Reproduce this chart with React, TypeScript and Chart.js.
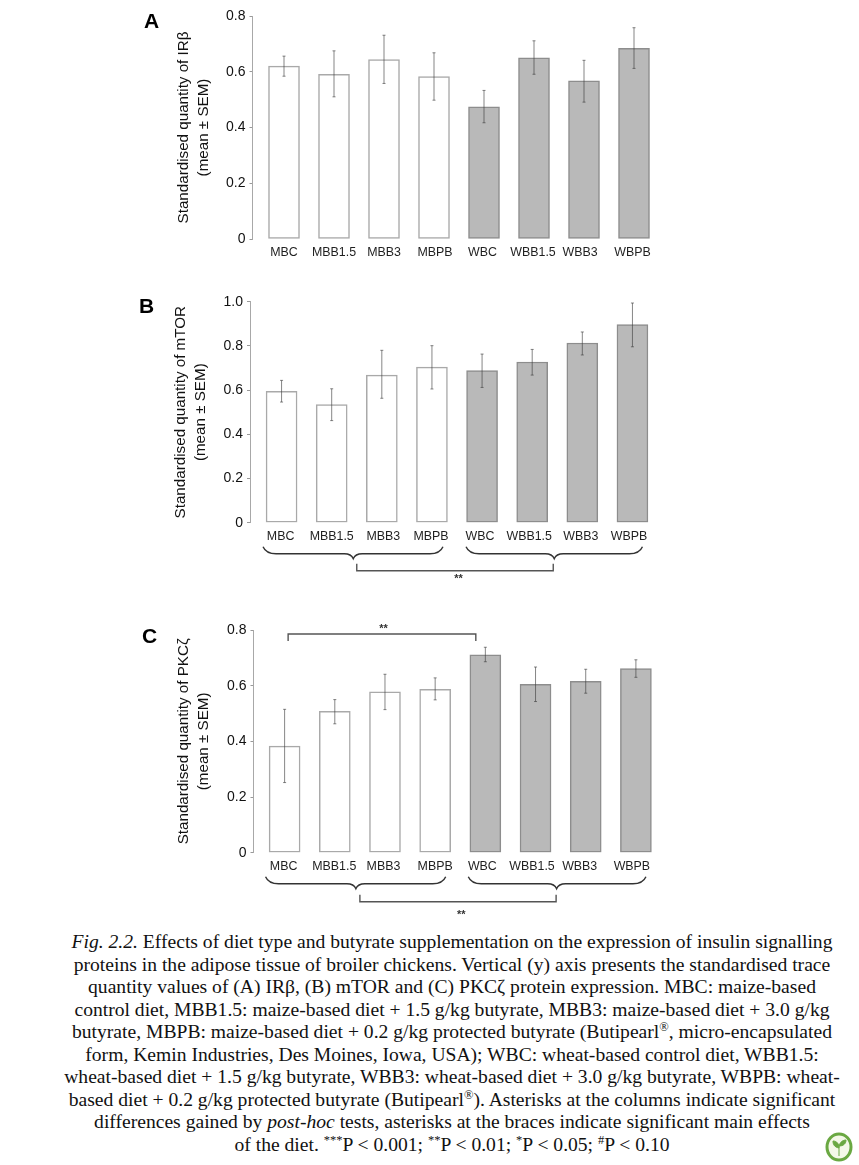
import React, { useEffect, useRef } from "react";
import { Chart, registerables } from "chart.js";

Chart.register(...registerables);

const categories = ["MBC", "MBB1.5", "MBB3", "MBPB", "WBC", "WBB1.5", "WBB3", "WBPB"];

const irbMeans = [0.62, 0.591, 0.644, 0.583, 0.474, 0.65, 0.567, 0.684];
const irbHigh = [0.656, 0.675, 0.731, 0.668, 0.533, 0.711, 0.641, 0.758];
const irbLow = [0.584, 0.51, 0.558, 0.498, 0.417, 0.591, 0.491, 0.612];

const mtorMeans = [0.594, 0.535, 0.668, 0.704, 0.688, 0.727, 0.813, 0.896];
const mtorHigh = [0.644, 0.606, 0.78, 0.801, 0.763, 0.784, 0.863, 0.994];
const mtorLow = [0.546, 0.462, 0.563, 0.605, 0.612, 0.668, 0.759, 0.796];

const pkcMeans = [0.383, 0.508, 0.578, 0.587, 0.711, 0.605, 0.616, 0.661];
const pkcHigh = [0.515, 0.55, 0.641, 0.628, 0.738, 0.667, 0.659, 0.693];
const pkcLow = [0.252, 0.463, 0.514, 0.549, 0.686, 0.543, 0.573, 0.63];

const WHITE_FILL = "#ffffff";
const WHITE_EDGE = "#a9a9a9";
const GREY_FILL = "#b9b9b9";
const GREY_EDGE = "#8d8d8d";
const fills = categories.map((c) => (c[0] === "M" ? WHITE_FILL : GREY_FILL));
const edges = categories.map((c) => (c[0] === "M" ? WHITE_EDGE : GREY_EDGE));

type Panel = {
  letter: string;
  letterX: number;
  letterY: number;
  top: number;
  height: number;
  titleLeft: number;
  left: number;
  right: number;
  areaTop: number;
  areaBottom: number;
  xMin: number;
  xMax: number;
  yMax: number;
  means: number[];
  high: number[];
  low: number[];
  title: string[];
  labelShift: number[];
  braces?: { left: number[]; right: number[]; tipOffset: number[]; bracket: number[]; bracketY: number[]; starsX: number; starsY: number };
  topBracket?: { span: number[]; y: number[]; starsX: number; starsY: number };
};

const panels: Panel[] = [
  {
    letter: "A", letterX: 144, letterY: 9, top: 0, height: 270, titleLeft: 174, left: 252.5, right: 660,
    areaTop: 16, areaBottom: 239, xMin: -0.63, xMax: 7.52, yMax: 0.8,
    means: irbMeans, high: irbHigh, low: irbLow,
    title: ["Standardised quantity of IRβ", "(mean ± SEM)"],
    labelShift: [0, 0, 0, 0.02, -0.03, -0.02, -0.08, -0.03],
  },
  {
    letter: "B", letterX: 139, letterY: 294, top: 285, height: 310, titleLeft: 171, left: 250, right: 657,
    areaTop: 16.7, areaBottom: 237.7, xMin: -0.63, xMax: 7.49, yMax: 1.0,
    means: mtorMeans, high: mtorHigh, low: mtorLow,
    title: ["Standardised quantity of mTOR", "(mean ± SEM)"],
    labelShift: [-0.02, 0, 0.03, -0.02, -0.04, -0.06, -0.03, -0.07],
    braces: {
      left: [-0.37, 1.43, 3.22], right: [3.68, 5.44, 7.2], tipOffset: [24, 31, 36],
      bracket: [1.5, 5.42], bracketY: [41, 48], starsX: 3.53, starsY: 56,
    },
  },
  {
    letter: "C", letterX: 142, letterY: 624, top: 615, height: 310, titleLeft: 174, left: 253.5, right: 662,
    areaTop: 15, areaBottom: 237.7, xMin: -0.62, xMax: 7.52, yMax: 0.8,
    means: pkcMeans, high: pkcHigh, low: pkcLow,
    title: ["Standardised quantity of PKCζ", "(mean ± SEM)"],
    labelShift: [-0.02, -0.01, -0.03, 0, -0.06, -0.07, -0.12, -0.08],
    braces: {
      left: [-0.38, 1.42, 3.21], right: [3.66, 5.42, 7.2], tipOffset: [24, 31, 36],
      bracket: [1.5, 5.41], bracketY: [42, 49], starsX: 3.52, starsY: 62,
    },
    topBracket: { span: [0.07, 3.81], y: [4, 11], starsX: 1.97, starsY: -1 },
  },
];

const captionLines: React.ReactNode[] = [
  <><i>Fig. 2.2.</i> Effects of diet type and butyrate supplementation on the expression of insulin signalling</>,
  <>proteins in the adipose tissue of broiler chickens. Vertical (y) axis presents the standardised trace</>,
  <>quantity values of (A) IRβ, (B) mTOR and (C) PKCζ protein expression. MBC: maize-based</>,
  <>control diet, MBB1.5: maize-based diet + 1.5 g/kg butyrate, MBB3: maize-based diet + 3.0 g/kg</>,
  <>butyrate, MBPB: maize-based diet + 0.2 g/kg protected butyrate (Butipearl<sup>®</sup>, micro-encapsulated</>,
  <>form, Kemin Industries, Des Moines, Iowa, USA); WBC: wheat-based control diet, WBB1.5:</>,
  <>wheat-based diet + 1.5 g/kg butyrate, WBB3: wheat-based diet + 3.0 g/kg butyrate, WBPB: wheat-</>,
  <>based diet + 0.2 g/kg protected butyrate (Butipearl<sup>®</sup>). Asterisks at the columns indicate significant</>,
  <>differences gained by <i>post-hoc</i> tests, asterisks at the braces indicate significant main effects</>,
  <>of the diet. <sup>***</sup>P &lt; 0.001; <sup>**</sup>P &lt; 0.01; <sup>*</sup>P &lt; 0.05; <sup>#</sup>P &lt; 0.10</>,
];

function drawBrace(ctx: CanvasRenderingContext2D, x0: number, mid: number, x1: number, yTop: number, yFlat: number, yTip: number) {
  ctx.beginPath();
  ctx.moveTo(x0, yTop);
  ctx.quadraticCurveTo(x0 + 3, yFlat, x0 + 13, yFlat);
  ctx.lineTo(mid - 9, yFlat);
  ctx.quadraticCurveTo(mid - 2, yFlat, mid, yTip);
  ctx.quadraticCurveTo(mid + 2, yFlat, mid + 9, yFlat);
  ctx.lineTo(x1 - 13, yFlat);
  ctx.quadraticCurveTo(x1 - 3, yFlat, x1, yTop);
  ctx.stroke();
}

function drawBracket(ctx: CanvasRenderingContext2D, x0: number, x1: number, yA: number, yB: number, open: "up" | "down") {
  const yBar = open === "up" ? yB : yA;
  const yEnd = open === "up" ? yA : yB;
  ctx.beginPath();
  ctx.moveTo(x0, yEnd);
  ctx.lineTo(x0, yBar);
  ctx.lineTo(x1, yBar);
  ctx.lineTo(x1, yEnd);
  ctx.stroke();
}

function makeChart(canvas: HTMLCanvasElement, p: Panel) {
  const annotate = {
    id: "annotate",
    afterDatasetsDraw(chart: any) {
      const { ctx, scales, chartArea } = chart;
      const x = scales.x;
      const y = scales.y;
      ctx.save();
      ctx.strokeStyle = "rgba(60,60,60,0.62)";
      ctx.lineWidth = 1;
      p.means.forEach((_, i) => {
        const cx = x.getPixelForValue(i);
        const hi = y.getPixelForValue(p.high[i]);
        const lo = y.getPixelForValue(p.low[i]);
        ctx.beginPath();
        ctx.moveTo(cx, hi);
        ctx.lineTo(cx, lo);
        ctx.moveTo(cx - 1.5, hi);
        ctx.lineTo(cx + 1.5, hi);
        ctx.moveTo(cx - 1.5, lo);
        ctx.lineTo(cx + 1.5, lo);
        ctx.stroke();
      });
      ctx.fillStyle = "#333";
      ctx.textAlign = "center";
      ctx.textBaseline = "middle";
      ctx.font = "bold 11px 'Liberation Sans'";
      if (p.braces) {
        const b = p.braces;
        const base = chartArea.bottom;
        ctx.strokeStyle = "#333";
        ctx.lineWidth = 1.4;
        [b.left, b.right].forEach((s) =>
          drawBrace(ctx, x.getPixelForValue(s[0]), x.getPixelForValue(s[1]), x.getPixelForValue(s[2]), base + b.tipOffset[0], base + b.tipOffset[1], base + b.tipOffset[2])
        );
        ctx.strokeStyle = "#555";
        ctx.lineWidth = 1.4;
        drawBracket(ctx, x.getPixelForValue(b.bracket[0]), x.getPixelForValue(b.bracket[1]), base + b.bracketY[0], base + b.bracketY[1], "up");
        ctx.fillText("**", x.getPixelForValue(b.starsX), base + b.starsY);
      }
      if (p.topBracket) {
        const t = p.topBracket;
        const top = chartArea.top;
        ctx.strokeStyle = "#555";
        ctx.lineWidth = 1.4;
        drawBracket(ctx, x.getPixelForValue(t.span[0]), x.getPixelForValue(t.span[1]), top + t.y[0], top + t.y[1], "down");
        ctx.fillText("**", x.getPixelForValue(t.starsX), top + t.starsY);
      }
      ctx.restore();
    },
  };

  return new Chart(canvas, {
    type: "bar",
    data: {
      datasets: [
        {
          data: p.means.map((v, i) => ({ x: i, y: v })),
          backgroundColor: fills,
          borderColor: edges,
          borderWidth: 1.5,
          borderSkipped: false,
          barThickness: 31,
        },
      ],
    },
    plugins: [annotate],
    options: {
      animation: false,
      responsive: false,
      devicePixelRatio: 1,
      layout: {
        padding: {
          left: p.titleLeft,
          right: 859 - p.right,
          top: p.areaTop,
          bottom: p.height - p.areaBottom - 30,
        },
      },
      plugins: { legend: { display: false }, tooltip: { enabled: false } },
      scales: {
        x: {
          type: "linear",
          offset: false,
          min: p.xMin,
          max: p.xMax,
          grid: { display: false, drawTicks: false, offset: false },
          border: { display: false },
          afterBuildTicks: (s: any) => {
            s.ticks = categories.map((_, i) => ({ value: i + p.labelShift[i] }));
          },
          afterFit: (s: any) => {
            s.height = 30;
          },
          ticks: {
            autoSkip: false,
            maxRotation: 0,
            padding: 6,
            color: "#1f1f1f",
            font: { family: "'Liberation Sans'", size: 12.4 },
            callback: (_v: any, i: number) => categories[i],
          },
        },
        y: {
          min: 0,
          max: p.yMax,
          grid: { drawOnChartArea: false, drawTicks: true, tickLength: 3, color: "#999" },
          border: { display: true, color: "#a8a8a8", width: 1 },
          afterFit: (s: any) => {
            s.width = p.left - p.titleLeft;
          },
          title: {
            display: true,
            text: p.title,
            color: "#111",
            padding: 0,
            font: { family: "'Liberation Sans'", size: 15.2, lineHeight: 1.32 },
          },
          ticks: {
            stepSize: 0.2,
            padding: 4,
            color: "#111",
            font: { family: "'Liberation Sans'", size: 14 },
            callback: (v: any) => (Number(v) === 0 ? "0" : Number(v).toFixed(1)),
          },
        },
      },
    } as any,
  });
}

function PanelChart({ p }: { p: Panel }) {
  const ref = useRef<HTMLCanvasElement | null>(null);
  useEffect(() => {
    const chart = makeChart(ref.current!, p);
    return () => chart.destroy();
  }, [p]);
  return (
    <>
      <canvas ref={ref} width={859} height={p.height} style={{ position: "absolute", left: 0, top: p.top, display: "block" }} />
      <div style={{ position: "absolute", left: p.letterX, top: p.letterY, font: "bold 21px 'Liberation Sans'", color: "#000", lineHeight: "24px" }}>
        {p.letter}
      </div>
    </>
  );
}

export default function App() {
  return (
    <div style={{ position: "absolute", left: 0, top: 0, width: 859, height: 1165, overflow: "hidden", background: "#fff" }}>
      {panels.map((p) => (
        <PanelChart key={p.letter} p={p} />
      ))}
      <style>{`.cap sup{font-size:12.5px;line-height:0;vertical-align:baseline;position:relative;top:-7px}`}</style>
      <div className="cap" style={{ position: "absolute", left: 0, width: 904, top: 931, textAlign: "center", fontFamily: "'Liberation Serif'", fontSize: 19.6, lineHeight: "22.5px", color: "#111" }}>
        {captionLines.map((l, i) => (
          <div key={i} style={{ whiteSpace: "nowrap" }}>{l}</div>
        ))}
      </div>
      <svg width="28" height="30" viewBox="0 0 28 30" style={{ position: "absolute", left: 825, top: 1132 }}>
        <ellipse cx="14" cy="15" rx="12" ry="13" fill="#f4f8e8" stroke="#6aa842" strokeWidth="3" />
        <path d="M14 24 V13 M14 16 C9 15 8 12 8 9 C12 9 14 12 14 16 M14 14 C15 10 18 8 21 8 C21 12 18 14 14 14" fill="#6aa842" stroke="#6aa842" strokeWidth="1" />
      </svg>
    </div>
  );
}
